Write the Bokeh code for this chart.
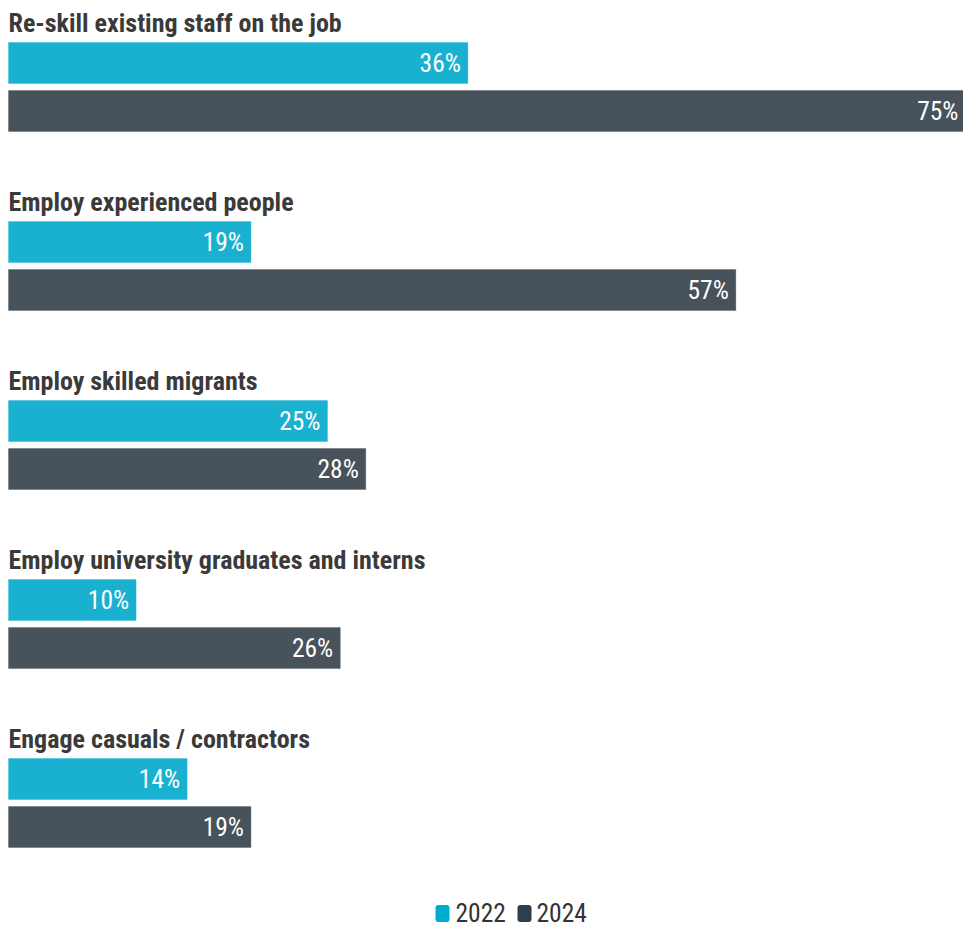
from bokeh.plotting import figure
from bokeh.models import ColumnDataSource, Range1d
from bokeh.core.properties import value
from bokeh.embed import file_html
from bokeh.resources import INLINE

# Survey responses: share of organisations using each strategy
categories = [
    "Re-skill existing staff on the job",
    "Employ experienced people",
    "Employ skilled migrants",
    "Employ university graduates and interns",
    "Engage casuals / contractors",
]
values_2022 = [36, 19, 25, 10, 14]
values_2024 = [75, 57, 28, 26, 19]
series_names = ["2022", "2024"]
series_colors = ["#00ABD1", "#2E3E4B"]
bar_colors = ["#1AB1D0", "#48525B"]

W, H = 963, 927
PX_PER_PCT = 12.76
LEFT_PAD = 8
GROUP_STEP = 179
TITLE_Y0 = 22
BAR_H = 41
BAR_Y0 = [62.5, 110.5]

FONT = "Roboto Condensed, Liberation Sans Narrow, DejaVu Sans Condensed, Roboto"

x0 = -LEFT_PAD / PX_PER_PCT
x1 = x0 + W / PX_PER_PCT

p = figure(width=W, height=H, output_backend="svg", toolbar_location=None,
           x_range=Range1d(x0, x1), y_range=Range1d(H, 0),
           min_border=0, outline_line_color=None)
p.axis.visible = False
p.grid.visible = False
p.background_fill_color = "white"
p.border_fill_color = "white"

n = len(categories)
title_y = [TITLE_Y0 + i * GROUP_STEP for i in range(n)]
p.text(x=[0] * n, y=title_y, text=categories,
       text_font=value(FONT), text_font_style="bold", text_font_size="26px",
       text_color="#3a3a3a", text_baseline="middle", text_align="left")

pad_pct = 7 / PX_PER_PCT
for s, (vals, color) in enumerate(zip([values_2022, values_2024], bar_colors)):
    ys = [BAR_Y0[s] + i * GROUP_STEP for i in range(n)]
    src = ColumnDataSource(dict(
        y=ys, right=vals,
        tx=[v - pad_pct for v in vals],
        label=[f"{v}%" for v in vals],
    ))
    p.hbar(y="y", left=0, right="right", height=BAR_H, source=src,
           fill_color=color, line_color=color, line_alpha=0.35, line_width=1)
    p.text(x="tx", y="y", text="label", source=src,
           text_font=value(FONT), text_font_size="25.5px",
           text_color="white", text_align="right", text_baseline="middle")

# Legend with rounded swatches, centred under the chart
leg_y = 912
swatch_w, swatch_h = 14, 17
leg_left_px = [435, 517]
text_left_px = [455, 536]
to_x = lambda px: (px - LEFT_PAD) / PX_PER_PCT
p.quad(left=[to_x(px) for px in leg_left_px],
       right=[to_x(px + swatch_w) for px in leg_left_px],
       top=[leg_y + 1 - swatch_h / 2] * 2, bottom=[leg_y + 1 + swatch_h / 2] * 2,
       fill_color=series_colors, line_color=None, border_radius=3)
p.text(x=[to_x(px) for px in text_left_px], y=[leg_y] * 2, text=series_names,
       text_font=value(FONT), text_font_size="25.5px", text_color="#333333",
       text_align="left", text_baseline="middle")

open("out.html", "w").write(file_html(p, INLINE))
